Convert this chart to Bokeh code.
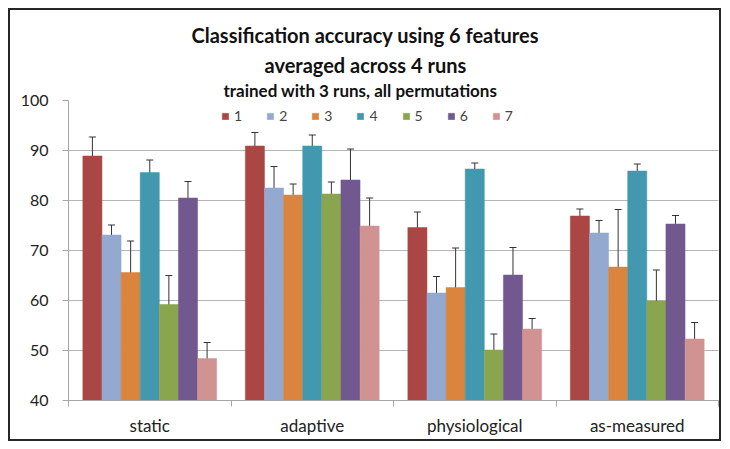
from bokeh.plotting import figure
from bokeh.models import (ColumnDataSource, Whisker, TeeHead, FixedTicker, Legend,
                          LegendItem, Title, Range1d)
from bokeh.embed import file_html
from bokeh.resources import INLINE

categories = ["static", "adaptive", "physiological", "as-measured"]
series_names = ["1", "2", "3", "4", "5", "6", "7"]
colors = ["#AA4643", "#93A9CF", "#DB843D", "#4198AF", "#89A54E", "#71588F", "#D19392"]

# mean accuracy per series (one value per category)
means = {
    "1": [88.9, 90.9, 74.6, 76.9],
    "2": [73.1, 82.5, 61.5, 73.5],
    "3": [65.6, 81.1, 62.6, 66.7],
    "4": [85.6, 90.9, 86.3, 85.9],
    "5": [59.2, 81.3, 50.1, 59.9],
    "6": [80.5, 84.1, 65.1, 75.3],
    "7": [48.4, 74.9, 54.3, 52.3],
}
# half-width of the error bars
errors = {
    "1": [3.8, 2.7, 3.1, 1.4],
    "2": [2.0, 4.3, 3.3, 2.5],
    "3": [6.3, 2.2, 7.9, 11.5],
    "4": [2.5, 2.2, 1.2, 1.4],
    "5": [5.8, 2.4, 3.2, 6.2],
    "6": [3.3, 6.2, 5.5, 1.7],
    "7": [3.2, 5.6, 2.1, 3.3],
}
y_ticks = [40, 50, 60, 70, 80, 90, 100]

FONT = "Lato"
n_ser = len(series_names)
bar_w = 0.8235 / n_ser

W, H = 713, 433
p = figure(width=W, height=H, output_backend="svg", toolbar_location=None,
           x_range=Range1d(0, len(categories)), y_range=Range1d(40, 100),
           min_border_left=58, min_border_right=5, min_border_top=90, min_border_bottom=43,
           title=None, background_fill_color="white", border_fill_color="white")
p.outline_line_color = None
p.styles = {"border": "2px solid #262626", "margin": "8px"}

items = []
for j, name in enumerate(series_names):
    xs = [i + 0.5 + (j - (n_ser - 1) / 2) * bar_w for i in range(len(categories))]
    top = means[name]
    err = errors[name]
    src = ColumnDataSource(dict(x=xs, top=top,
                                upper=[t + e for t, e in zip(top, err)],
                                lower=[t - e for t, e in zip(top, err)]))
    r = p.vbar(x="x", top="top", bottom=40, width=bar_w, source=src,
               fill_color=colors[j], line_color=colors[j], line_width=0.5)
    w = Whisker(base="x", upper="upper", lower="lower", source=src,
                line_color="#333333", line_width=1,
                upper_head=TeeHead(size=7, line_color="#333333", line_width=1),
                lower_head=TeeHead(size=7, line_color="#333333", line_width=1))
    p.add_layout(w)
    items.append(LegendItem(label=name, renderers=[r]))

legend = Legend(items=items, orientation="horizontal", location=(153, 276),
                border_line_color=None, background_fill_alpha=0,
                glyph_width=8, glyph_height=8, label_text_font=FONT,
                label_text_font_size="14px", label_standoff=5, label_width=8,
                spacing=24, margin=0, padding=4, label_height=12)
p.add_layout(legend)

p.yaxis.ticker = FixedTicker(ticks=y_ticks)
p.yaxis.axis_line_color = "#A6A6A6"
p.yaxis.major_tick_line_color = "#A6A6A6"
p.yaxis.major_tick_out = 6
p.yaxis.major_tick_in = 0
p.yaxis.minor_tick_line_color = None
p.yaxis.major_label_text_font = FONT
p.yaxis.major_label_text_font_size = "16px"
p.yaxis.major_label_text_color = "#222222"
p.yaxis.major_label_standoff = 14

centers = [i + 0.5 for i in range(len(categories))]
bounds = [i for i in range(len(categories) + 1)]
p.xaxis.ticker = FixedTicker(ticks=centers, minor_ticks=bounds)
p.xaxis.major_label_overrides = {c: lab for c, lab in zip(centers, categories)}
p.xaxis.major_tick_line_color = None
p.xaxis.minor_tick_line_color = "#A6A6A6"
p.xaxis.minor_tick_out = 6
p.xaxis.minor_tick_in = 0
p.xaxis.axis_line_color = "#A6A6A6"
p.xaxis.major_label_text_font = FONT
p.xaxis.major_label_text_font_size = "17px"
p.xaxis.major_label_text_color = "#222222"
p.xaxis.major_label_standoff = 8

p.xgrid.grid_line_color = None
p.ygrid.grid_line_color = "#B5B5B5"
p.ygrid.ticker = FixedTicker(ticks=y_ticks)

p.add_layout(Title(text="trained with 3 runs, all permutations", align="left",
                   text_font=FONT, text_font_size="17px", text_font_style="bold",
                   text_color="#111111", standoff=0, offset=155), "above")
p.add_layout(Title(text="averaged across 4 runs", align="left",
                   text_font=FONT, text_font_size="20px", text_font_style="bold",
                   text_color="#111111", standoff=2, offset=196), "above")
p.add_layout(Title(text="Classification accuracy using 6 features", align="left",
                   text_font=FONT, text_font_size="20px", text_font_style="bold",
                   text_color="#111111", standoff=6, offset=123), "above")

open("out.html", "w").write(file_html(p, INLINE))
